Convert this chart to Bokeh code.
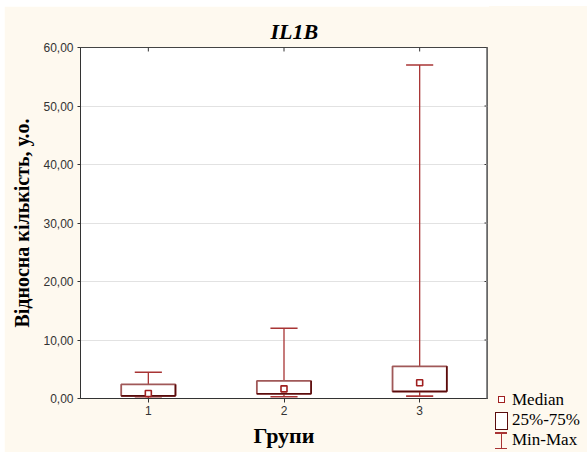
from bokeh.plotting import figure
from bokeh.layouts import row, column
from bokeh.models import (FixedTicker, CustomJSTickFormatter, Range1d, Span, ColumnDataSource, Div)
from bokeh.embed import file_html
from bokeh.resources import INLINE

# ---- data ----
groups = [1, 2, 3]
group_labels = ["1", "2", "3"]
medians = [0.85, 1.65, 2.7]
q1 = [0.45, 0.8, 1.2]
q3 = [2.4, 3.0, 5.5]
mins = [0.05, 0.3, 0.4]
maxs = [4.5, 12.0, 57.0]
y_ticks = [0, 10, 20, 30, 40, 50, 60]
legend_labels = ["Median", "25%-75%", "Min-Max"]

BG = "#FEF9EF"
BOX_LIGHT = "#A05858"
BOX_DARK = "#5A0C0C"
WHISK = "#A83434"
MED = "#A02020"
SERIF = "Liberation Serif"
SANS = "Liberation Sans"

hw = 0.2   # box half width
cw = 0.1   # cap half width
X0, X1 = 0.5, 3.5
Y0, Y1 = 0, 60

# white page margin of the reference
TOP_M, LEFT_M = 6, 4
H = 452 - TOP_M

src = ColumnDataSource(dict(
    x=groups,
    left=[g - hw for g in groups], right=[g + hw for g in groups],
    cl=[g - cw for g in groups], cr=[g + cw for g in groups],
    med=medians, q1=q1, q3=q3, lo=mins, hi=maxs,
))

MAIN_W = 489 - LEFT_M
p = figure(width=MAIN_W, height=H, output_backend="svg", toolbar_location=None,
           x_range=Range1d(X0, X1), y_range=Range1d(Y0, Y1),
           min_border_left=80 - LEFT_M, min_border_right=2, min_border_top=47 - TOP_M,
           min_border_bottom=54)
p.border_fill_color = BG
p.background_fill_color = "white"
p.outline_line_color = "#444444"
p.outline_line_width = 1

p.title.text = "IL1B"
p.title.text_font = SERIF
p.title.text_font_style = "bold italic"
p.title.text_font_size = "22px"
p.title.text_color = "black"
p.title.align = "left"
p.title.offset = 190
p.title.standoff = 8

# grid
p.xgrid.visible = False
p.ygrid.ticker = FixedTicker(ticks=y_ticks)
p.ygrid.grid_line_color = "#E2E2E2"
p.ygrid.grid_line_width = 1

# inward ticks on right and top edges
p.segment(x0=[X1] * len(y_ticks), y0=y_ticks, x1=[X1 - 0.022] * len(y_ticks), y1=y_ticks,
          line_color="#333333", line_width=1)
p.segment(x0=groups, y0=[Y1] * 3, x1=groups, y1=[Y1 - 0.68] * 3,
          line_color="#333333", line_width=1)
p.add_layout(Span(location=X1, dimension="height", line_color="#8A8A8A", line_width=3))

# whiskers
p.segment(x0="x", y0="lo", x1="x", y1="hi", source=src, line_color=WHISK, line_width=1.3)
p.segment(x0="cl", y0="hi", x1="cr", y1="hi", source=src, line_color=WHISK, line_width=1.6)
p.segment(x0="cl", y0="lo", x1="cr", y1="lo", source=src, line_color=WHISK, line_width=1.6)
# boxes
p.quad(left="left", right="right", bottom="q1", top="q3", source=src,
       fill_color="white", line_color=BOX_LIGHT, line_width=1.8)
p.segment(x0="right", y0="q1", x1="right", y1="q3", source=src, line_color=BOX_DARK, line_width=1.6)
p.segment(x0="left", y0="q1", x1="right", y1="q1", source=src, line_color=BOX_DARK, line_width=1.6)
# medians
p.scatter(x="x", y="med", source=src, marker="square", size=6,
          fill_color="white", line_color=MED, line_width=1.6)

# axes
fmt = CustomJSTickFormatter(code="return tick.toFixed(2).replace('.', ',')")
ya = p.yaxis[0]
ya.ticker = FixedTicker(ticks=y_ticks)
ya.formatter = fmt
ya.axis_label = "Відносна кількість, у.о."
ya.axis_label_text_font = SERIF
ya.axis_label_text_font_style = "bold"
ya.axis_label_text_font_size = "20px"
ya.axis_label_text_color = "black"
ya.axis_label_standoff = 7
ya.major_label_text_font = SANS
ya.major_label_text_font_size = "12px"
ya.major_label_text_color = "#333333"
ya.major_label_standoff = 4
ya.major_tick_out = 3
ya.major_tick_in = 0
ya.minor_tick_line_color = None
ya.axis_line_color = "#333333"
ya.major_tick_line_color = "#333333"

xa = p.xaxis[0]
xa.ticker = FixedTicker(ticks=groups)
xa.major_label_overrides = {g: s for g, s in zip(groups, group_labels)}
xa.axis_label = "Групи"
xa.axis_label_text_font = SERIF
xa.axis_label_text_font_style = "bold"
xa.axis_label_text_font_size = "22px"
xa.axis_label_text_color = "black"
xa.axis_label_standoff = 5
xa.major_label_text_font = SANS
xa.major_label_text_font_size = "12px"
xa.major_label_text_color = "#333333"
xa.major_label_standoff = 3
xa.major_tick_out = 4
xa.major_tick_in = 0
xa.minor_tick_line_color = None
xa.axis_line_color = "#333333"
xa.major_tick_line_color = "#333333"

# ---- legend panel (HTML, to the right of the plot) ----
LEG_W = 587 - LEFT_M - MAIN_W
text_left = 23
text_tops = [391 - TOP_M, 411 - TOP_M, 431 - TOP_M]

def box(left, top, w, h, style):
    return (f'<div style="position:absolute;left:{left}px;top:{top - TOP_M}px;width:{w}px;'
            f'height:{h}px;box-sizing:border-box;{style}"></div>')

parts = []
parts.append(box(9, 395.5, 7, 7, f"border:1.5px solid {MED};background:white;"))
parts.append(box(6, 412, 13, 18, f"border:1.5px solid {BOX_DARK};background:white;"))
parts.append(box(11.5, 433, 1.4, 16, f"background:{WHISK};"))
parts.append(box(6, 432.3, 12, 1.4, f"background:{WHISK};"))
parts.append(box(6, 447.8, 12, 1.4, f"background:{WHISK};"))
for txt, top in zip(legend_labels, text_tops):
    parts.append(f'<span style="position:absolute;left:{text_left}px;top:{top}px;'
                 f"font-family:'{SERIF}';font-size:17px;line-height:17px;color:black;"
                 f'white-space:nowrap;">{txt}</span>')

html = (f'<div style="position:relative;width:{LEG_W}px;height:{H}px;background:{BG};'
        f'overflow:hidden;">' + "".join(parts) + "</div>")
leg = Div(text=html, width=LEG_W, height=H, margin=0,
          styles={"background-color": BG})

top_strip = Div(text="", width=587, height=TOP_M, margin=0,
                styles={"background-color": "white"})
left_strip = Div(text="", width=LEFT_M, height=H, margin=0,
                 styles={"background-color": "white"})

layout = column(top_strip, row(left_strip, p, leg, spacing=0), spacing=0)
open("out.html", "w").write(file_html(layout, INLINE))
